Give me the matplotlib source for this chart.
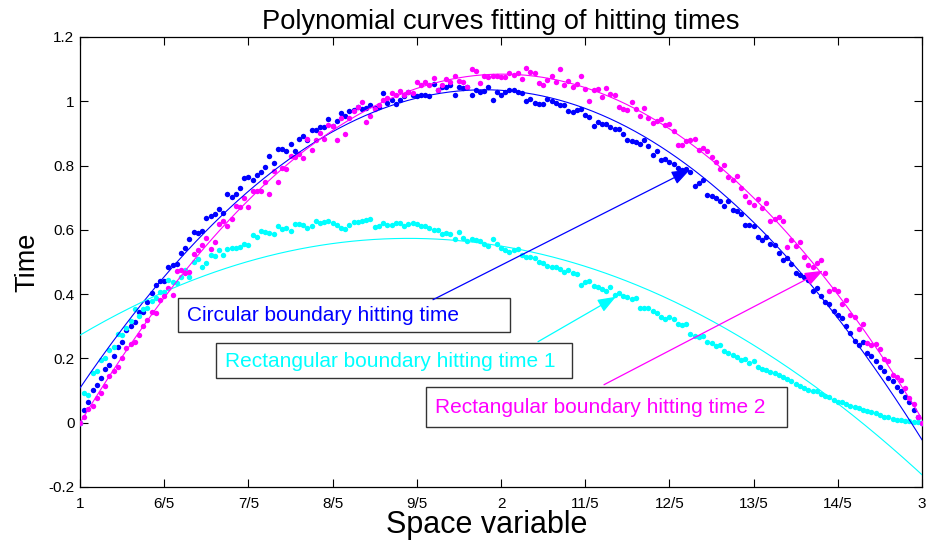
import numpy as np
import matplotlib
matplotlib.use("Agg")
import matplotlib.pyplot as plt
from matplotlib.patches import Rectangle

plt.rcParams['font.family'] = ['Liberation Sans', 'DejaVu Sans']

# sample grid of the space variable (1 to 3, step 0.01)
x_start, x_stop, n_pts = 1.0, 3.0, 201

circular = [0.0,
 0.040,0.065,0.102,0.118,0.139,0.166,0.181,0.208,0.235,0.250,
 0.287,0.300,0.312,0.344,0.344,0.377,0.405,0.428,0.442,0.440,
 0.483,0.491,0.495,0.527,0.545,0.572,0.593,0.591,0.596,0.636,
 0.642,0.648,0.664,0.652,0.712,0.701,0.712,0.729,0.761,0.764,
 0.755,0.772,0.780,0.794,0.831,0.808,0.851,0.851,0.845,0.866,
 0.845,0.882,0.891,0.879,0.911,0.910,0.920,0.920,0.946,0.923,
 0.938,0.964,0.955,0.969,0.972,0.981,0.977,0.980,0.987,0.978,
 0.981,1.027,0.996,1.003,0.993,1.005,1.015,1.030,1.020,1.017,
 1.019,1.019,1.016,1.053,1.034,1.046,1.043,1.052,1.019,1.044,
 1.041,1.043,1.021,1.034,1.028,1.031,1.043,1.004,1.029,1.020,
 1.029,1.036,1.036,1.029,1.025,1.001,1.006,0.995,0.993,0.991,
 1.006,1.001,0.995,0.990,0.987,0.970,0.967,0.972,0.975,0.956,
 0.951,0.922,0.935,0.930,0.928,0.920,0.915,0.914,0.897,0.879,
 0.875,0.872,0.868,0.879,0.860,0.834,0.846,0.816,0.822,0.811,
 0.806,0.793,0.785,0.790,0.780,0.736,0.746,0.754,0.710,0.705,
 0.699,0.689,0.675,0.689,0.663,0.660,0.648,0.615,0.614,0.612,
 0.577,0.570,0.579,0.555,0.553,0.527,0.507,0.512,0.494,0.466,
 0.459,0.453,0.445,0.409,0.418,0.393,0.376,0.370,0.349,0.336,
 0.325,0.302,0.279,0.255,0.242,0.251,0.216,0.208,0.193,0.172,
 0.160,0.139,0.129,0.112,0.100,0.079,0.063,0.040,0.019,0.0]

rect1 = [0.0,
 0.094,0.087,0.156,0.160,0.195,0.201,0.226,0.235,0.276,0.273,
 0.296,0.316,0.353,0.331,0.354,0.357,0.380,0.387,0.407,0.407,
 0.445,0.439,0.435,0.453,0.474,0.453,0.499,0.510,0.484,0.496,
 0.523,0.518,0.538,0.523,0.540,0.544,0.544,0.546,0.557,0.552,
 0.584,0.579,0.598,0.592,0.590,0.588,0.613,0.602,0.607,0.598,
 0.619,0.617,0.614,0.607,0.612,0.629,0.622,0.626,0.629,0.621,
 0.614,0.605,0.603,0.616,0.626,0.624,0.628,0.631,0.633,0.609,
 0.612,0.622,0.615,0.614,0.622,0.622,0.611,0.617,0.622,0.617,
 0.613,0.611,0.605,0.601,0.600,0.587,0.590,0.588,0.573,0.593,
 0.575,0.566,0.572,0.569,0.564,0.557,0.550,0.572,0.555,0.544,
 0.538,0.531,0.536,0.541,0.523,0.515,0.515,0.513,0.499,0.497,
 0.489,0.484,0.484,0.477,0.468,0.476,0.465,0.463,0.430,0.437,
 0.440,0.426,0.421,0.416,0.409,0.421,0.398,0.404,0.393,0.390,
 0.385,0.388,0.357,0.357,0.357,0.347,0.341,0.328,0.323,0.330,
 0.323,0.307,0.303,0.306,0.276,0.271,0.266,0.271,0.250,0.248,
 0.238,0.243,0.224,0.216,0.212,0.203,0.195,0.198,0.185,0.191,
 0.172,0.168,0.164,0.158,0.154,0.150,0.143,0.136,0.131,0.121,
 0.115,0.108,0.102,0.100,0.098,0.089,0.084,0.079,0.071,0.066,
 0.063,0.058,0.053,0.050,0.046,0.040,0.035,0.032,0.030,0.025,
 0.019,0.017,0.012,0.010,0.008,0.006,0.004,0.003,0.002,0.0]

rect2 = [0.0,
 0.017,0.043,0.053,0.076,0.092,0.114,0.146,0.160,0.174,0.201,
 0.232,0.244,0.252,0.272,0.300,0.319,0.345,0.342,0.383,0.394,
 0.420,0.398,0.471,0.476,0.465,0.468,0.524,0.538,0.552,0.576,
 0.540,0.563,0.617,0.629,0.611,0.635,0.675,0.672,0.700,0.671,
 0.722,0.722,0.722,0.749,0.712,0.783,0.749,0.792,0.789,0.829,
 0.826,0.837,0.825,0.882,0.847,0.879,0.902,0.883,0.927,0.923,
 0.879,0.949,0.897,0.947,0.969,0.981,0.999,0.936,0.953,0.976,
 0.988,1.003,1.011,1.027,1.020,1.032,1.020,1.028,1.027,1.061,
 1.050,1.059,1.052,1.072,1.034,1.051,1.070,1.059,1.080,1.063,
 1.060,1.045,1.099,1.094,1.058,1.080,1.075,1.080,1.080,1.075,
 1.076,1.088,1.081,1.088,1.069,1.105,1.091,1.088,1.058,1.052,
 1.067,1.079,1.061,1.099,1.050,1.063,1.043,1.054,1.079,1.039,
 1.001,1.034,1.038,1.013,1.041,1.024,1.019,0.982,0.977,0.974,
 0.999,0.977,0.953,0.978,0.949,0.932,0.939,0.944,0.926,0.930,
 0.907,0.865,0.863,0.875,0.879,0.884,0.850,0.856,0.845,0.828,
 0.812,0.788,0.803,0.766,0.754,0.767,0.731,0.704,0.686,0.676,
 0.696,0.669,0.685,0.627,0.633,0.640,0.628,0.548,0.570,0.550,
 0.562,0.515,0.492,0.486,0.498,0.506,0.465,0.409,0.416,0.411,
 0.369,0.382,0.335,0.330,0.293,0.307,0.249,0.243,0.245,0.230,
 0.199,0.193,0.149,0.143,0.133,0.109,0.076,0.058,0.019,0.0]

xtick_vals = [1, 1.2, 1.4, 1.6, 1.8, 2, 2.2, 2.4, 2.6, 2.8, 3]
xtick_labels = ['1', '6/5', '7/5', '8/5', '9/5', '2', '11/5', '12/5', '13/5', '14/5', '3']
ytick_vals = [-0.2, 0, 0.2, 0.4, 0.6, 0.8, 1, 1.2]
ytick_labels = ['-0.2', '0', '0.2', '0.4', '0.6', '0.8', '1', '1.2']

series_names = ['Circular boundary hitting time',
                'Rectangular boundary hitting time 1',
                'Rectangular boundary hitting time 2']
colors = ['#0000ff', '#00ffff', '#ff00ff']
fit_degree = 2

x = np.linspace(x_start, x_stop, n_pts)
data = [np.array(circular), np.array(rect1), np.array(rect2)]

fig = plt.figure(figsize=(9.27, 5.43), dpi=100)
ax = fig.add_axes([80/927, 56/543, 842/927, 450/543])

xf = np.linspace(x_start, x_stop, 400)
for y, c in zip(data, colors):
    ax.plot(x, y, 'o', color=c, markersize=3.9, markeredgewidth=0, zorder=3)
for y, c in zip(data, colors):
    p = np.polyfit(x, y, fit_degree)
    ax.plot(xf, np.polyval(p, xf), '-', color=c, linewidth=0.8, zorder=4)

ax.set_xlim(1, 3)
ax.set_ylim(-0.2, 1.2)
ax.set_xticks(xtick_vals)
ax.set_xticklabels(xtick_labels)
ax.set_yticks(ytick_vals)
ax.set_yticklabels(ytick_labels)
ax.tick_params(direction='in', length=6, width=0.8, top=True, right=True,
               labelsize=11, pad=4)
ax.tick_params(axis='x', pad=7)
for s in ax.spines.values():
    s.set_linewidth(0.9)

ax.set_title('Polynomial curves fitting of hitting times', fontsize=19.6, pad=6)
ax.set_xlabel('Space variable', fontsize=22, labelpad=0)
ax.xaxis.set_label_coords(0.483, -0.05, transform=ax.transAxes)
ax.set_ylabel('Time', fontsize=19.5, labelpad=6)

# annotation boxes (pixel layout -> data coords)
def px2data(px, py):
    return 1 + (px - 80) / 421.0, (422 - py) / 321.4

boxes = [(178, 297, 510, 331, 187), (216, 342, 572, 377, 225), (426, 386, 787, 426, 435)]
arrows = [((433, 299), (690, 169)), ((538, 341), (616, 296)), ((604, 384), (823, 270))]
for (l, t, r, b, tx), (tail, head), name, c in zip(boxes, arrows, series_names, colors):
    x0, y0 = px2data(l, b)
    x1, y1 = px2data(r, t)
    ax.add_patch(Rectangle((x0, y0), x1 - x0, y1 - y0, facecolor='white',
                           edgecolor='0.2', linewidth=1.0, zorder=5))
    txx, txy = px2data(tx, (t + b) / 2 + 1)
    ax.text(txx, txy, name, color=c, fontsize=15, ha='left', va='center', zorder=6)
    ax.annotate('', xy=px2data(*head), xytext=px2data(*tail),
                arrowprops=dict(arrowstyle='-|>,head_length=0.8,head_width=0.3',
                                color=c, lw=0.9, shrinkA=0, shrinkB=0,
                                mutation_scale=14), zorder=6)

fig.savefig('out.png', dpi=100)
